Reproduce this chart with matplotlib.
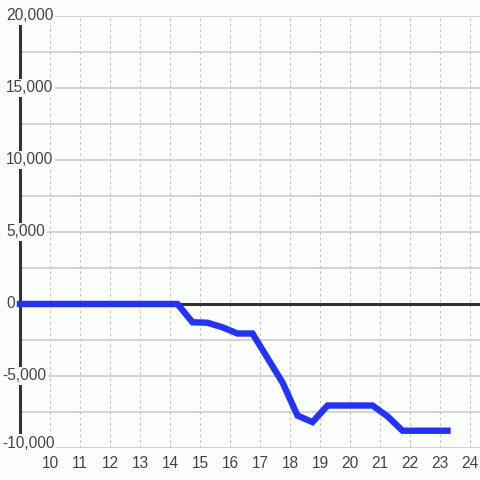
import matplotlib.pyplot as plt
from matplotlib.transforms import blended_transform_factory, offset_copy

# hours of the day and the running value
hours = [9.0, 9.25, 10.25, 11.25, 12.25, 13.25, 14.25, 14.75, 15.25, 15.75, 16.25,
         16.75, 17.25, 17.75, 18.25, 18.75, 19.25, 19.75, 20.25, 20.75,
         21.25, 21.75, 22.25, 22.75, 23.25]
values = [0, 0, 0, 0, 0, 0, 0, -1270, -1300, -1620, -2050,
          -2050, -3750, -5450, -7750, -8200, -7050, -7050, -7050, -7050,
          -7800, -8800, -8800, -8800, -8800]

x_ticks = list(range(10, 25))
y_ticks = [-10000, -7500, -5000, -2500, 0, 2500, 5000, 7500, 10000, 12500, 15000, 17500, 20000]
y_labels = [-10000, -5000, 0, 5000, 10000, 15000, 20000]

bg = '#fcfefc'
txt = '#444444'
fs = 11.2
plt.rcParams['font.family'] = ['Liberation Sans', 'DejaVu Sans']

fig = plt.figure(figsize=(4.8, 4.8), dpi=100, facecolor=bg)
ax = fig.add_axes([20 / 480, 32 / 480, 460 / 480, 432 / 480], facecolor=bg)

ax.set_xlim(9, 9 + 460 / 30)
ax.set_ylim(-10000, 20000)

# grid
ax.set_yticks(y_ticks)
ax.set_xticks(x_ticks)
ax.grid(axis='y', color='#c8c8c8', linewidth=1.1, linestyle='-')
ax.grid(axis='x', color='#c4c4c4', linewidth=0.75, linestyle=(0, (2.7, 2.7)))
ax.set_axisbelow(True)

for s in ['top', 'right', 'bottom']:
    ax.spines[s].set_visible(False)
ax.spines['left'].set_linewidth(2.2)
ax.spines['left'].set_color('#333333')
ax.spines['left'].set_zorder(2)

ax.axhline(0, color='#333333', linewidth=2.2, zorder=2.2)

ax.plot(hours, values, color='#2233ff', linewidth=4.6, solid_capstyle='projecting',
        solid_joinstyle='miter', clip_on=False, zorder=4)

ax.tick_params(axis='y', left=False, labelleft=False)
ax.tick_params(axis='x', length=0, pad=5.5, labelsize=fs, labelcolor=txt)

# y labels drawn inside over the spine
trans = blended_transform_factory(fig.transFigure, ax.transData)
for v in y_labels:
    s = '{:,}'.format(abs(v))
    if v < 0:
        s = '-' + s
        xpos = 1.8 / 480
    else:
        xpos = 6 / 480
    t = trans
    if v == y_labels[0]:
        t = offset_copy(trans, fig=fig, y=5, units='dots')
    ax.text(xpos, v, s, transform=t, ha='left', va='center', fontsize=fs,
            color=txt, zorder=5,
            bbox=dict(boxstyle='square,pad=0.12', facecolor=bg, edgecolor='none'))

fig.savefig('out.png', dpi=100, facecolor=bg)
